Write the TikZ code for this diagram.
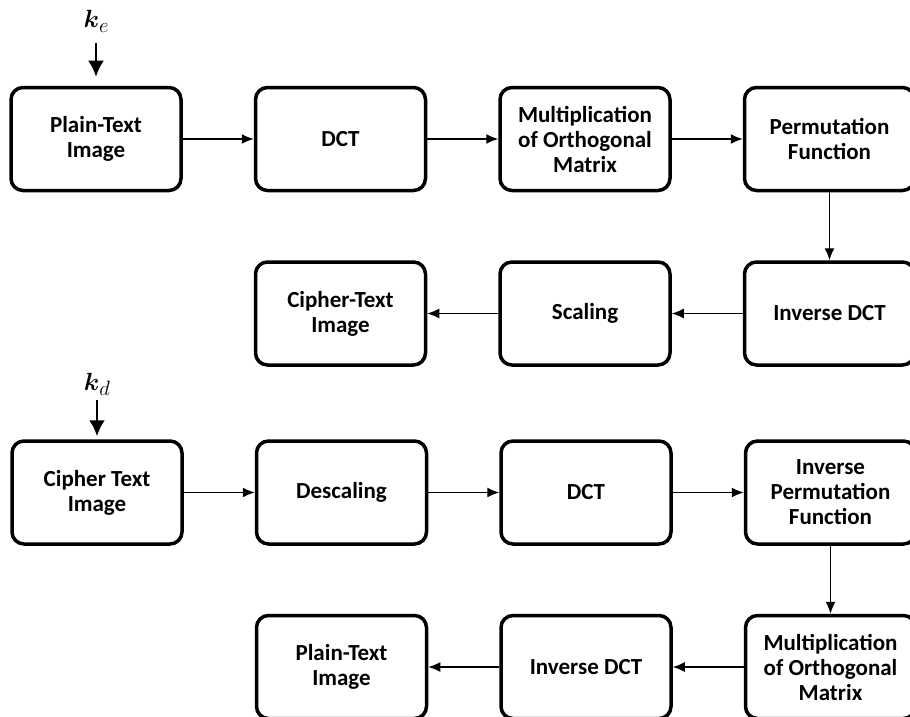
\documentclass[tikz,border=0pt]{standalone}
\usepackage{amsmath}
\usepackage{fontspec}
\setmainfont{Carlito}
\usepackage{tikz}
\usetikzlibrary{arrows.meta,positioning}
\tikzstyle{process} = [rectangle, rounded corners=12pt, minimum width=170pt, minimum height=103pt, text centered, align=center, draw=black, line width=3.5pt, font=\fontsize{23}{25}\selectfont\bfseries]
\tikzstyle{arrow} = [line width=1.4pt,->,>={Latex[length=12pt,width=10pt]}]
\tikzstyle{keyarrow} = [line width=2.6pt,->,>={Latex[length=16pt,width=16pt]}]
\tikzstyle{keylabel} = [inner sep=0pt]
\newcommand{\keyname}[1]{{\fontsize{24}{24}\selectfont$\boldsymbol{k}$}\raisebox{-5pt}{\fontsize{20}{20}\selectfont$#1$}}

\begin{document}
\begin{tikzpicture}[x=1pt, y=1pt, node distance=68pt and 71pt]
\useasboundingbox (0,0) rectangle (910,-717);
% encryption
\node[process] (e1) at (96,-139) {Plain-Text\\Image};
\node[process, right=of e1] (e2) {DCT};
\node[process, right=of e2] (e3) {Multiplication\\of Orthogonal\\Matrix};
\node[process, right=of e3] (e4) {Permutation\\Function};
\node[process, below=of e4] (e5) {Inverse DCT};
\node[process, left=of e5] (e6) {Scaling};
\node[process, left=of e6] (e7) {Cipher-Text\\Image};
\node[keylabel, above=53pt of e1] (ke) {\keyname{e}};
\draw[keyarrow, shorten <=10pt, shorten >=9pt] (ke) -- (e1);
\draw[arrow] (e1) -- (e2);
\draw[arrow] (e2) -- (e3);
\draw[arrow] (e3) -- (e4);
\draw[arrow] (e4) -- (e5);
\draw[arrow] (e5) -- (e6);
\draw[arrow] (e6) -- (e7);
% decryption
\node[process] (d1) at (97,-492.5) {Cipher Text\\Image};
\node[process, right=of d1] (d2) {Descaling};
\node[process, right=of d2] (d3) {DCT};
\node[process, right=of d3] (d4) {Inverse\\Permutation\\Function};
\node[process, below=of d4] (d5) {Multiplication\\of Orthogonal\\Matrix};
\node[process, left=of d5] (d6) {Inverse DCT};
\node[process, left=of d6] (d7) {Plain-Text\\Image};
\node[keylabel, above=44pt of d1] (kd) {\keyname{d}};
\draw[keyarrow, shorten <=5pt, shorten >=3pt] (kd) -- (d1);
\draw[arrow] (d1) -- (d2);
\draw[arrow] (d2) -- (d3);
\draw[arrow] (d3) -- (d4);
\draw[arrow] (d4) -- (d5);
\draw[arrow] (d5) -- (d6);
\draw[arrow] (d6) -- (d7);
\end{tikzpicture}
\end{document}
